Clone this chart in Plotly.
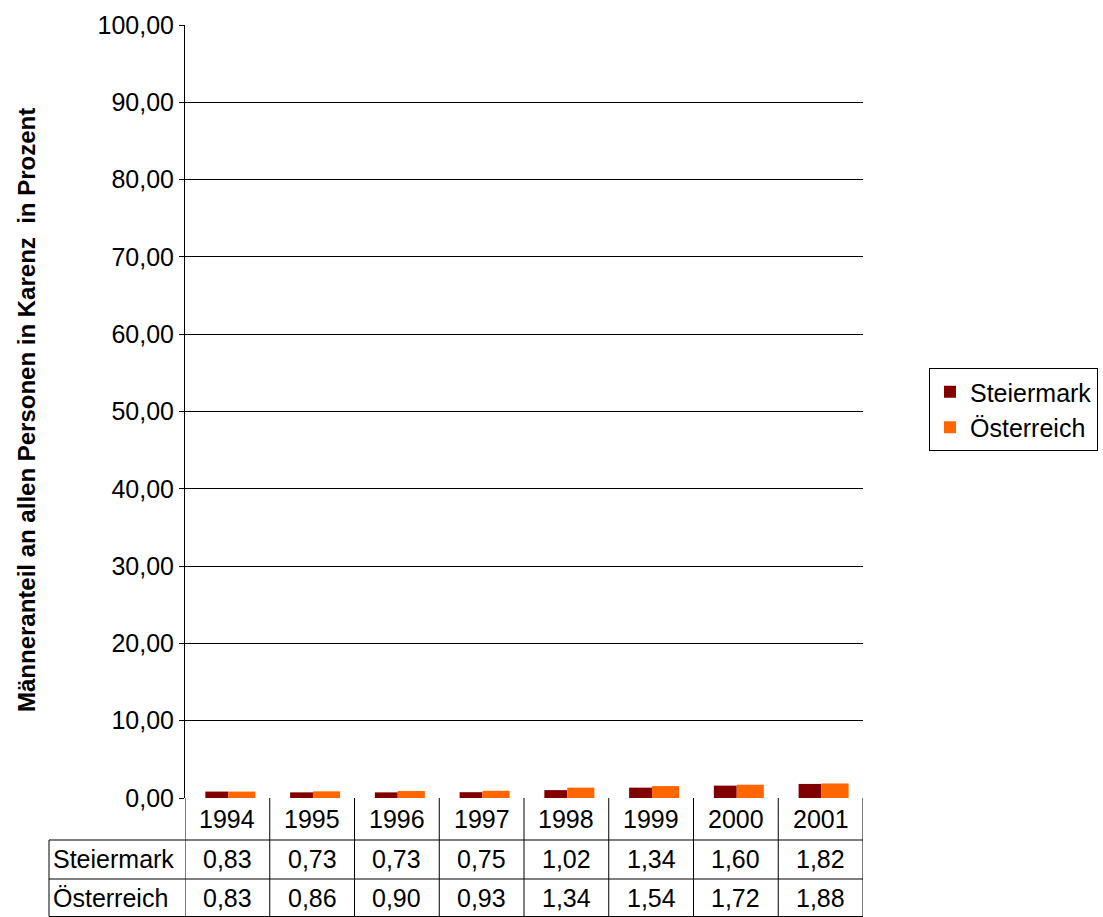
import plotly.graph_objects as go

years = ["1994", "1995", "1996", "1997", "1998", "1999", "2000", "2001"]
steiermark = [0.83, 0.73, 0.73, 0.75, 1.02, 1.34, 1.60, 1.82]
oesterreich = [0.83, 0.86, 0.90, 0.93, 1.34, 1.54, 1.72, 1.88]
series_names = ["Steiermark", "Österreich"]
series_colors = ["#800000", "#FF6600"]
y_title = "Männeranteil an allen Personen in Karenz  in Prozent"

FONT = "Liberation Sans, Arial, sans-serif"
FS = 25
W, H = 1103, 917
L, R, T, B = 185, 240, 25, 119
plot_h = H - T - B
plot_w = W - L - R

def py(px):
    # pixel row -> paper y
    return (H - B - px) / plot_h

def pxp(px):
    # pixel column -> paper x
    return (px - L) / plot_w

xs = list(range(len(years)))

fig = go.Figure()
fig.add_trace(go.Bar(x=xs, y=steiermark, name=series_names[0],
                     marker=dict(color=series_colors[0], line=dict(width=0)),
                     width=0.27, offset=-0.26))
fig.add_trace(go.Bar(x=xs, y=oesterreich, name=series_names[1],
                     marker=dict(color=series_colors[1], line=dict(width=0)),
                     width=0.32, offset=0.01))

shapes = []
line = dict(color="black", width=1)
row1_bottom = py(840)
row2_bottom = py(879)
table_bottom = py(916.5)
left_edge = pxp(49)

# vertical separators of the data table
for i in range(len(years) + 1):
    shapes.append(dict(type="line", xref="x", yref="paper",
                       x0=i - 0.5, x1=i - 0.5, y0=0, y1=table_bottom, line=line))
shapes.append(dict(type="line", xref="paper", yref="paper",
                   x0=left_edge, x1=left_edge, y0=row1_bottom, y1=table_bottom, line=line))
for yy in (row1_bottom, row2_bottom, table_bottom):
    shapes.append(dict(type="line", xref="paper", yref="paper",
                       x0=left_edge, x1=1, y0=yy, y1=yy, line=line))

annotations = []
tfont = dict(family=FONT, size=FS, color="black")
row1_mid = py(819)
row2_mid = py(859)
row3_mid = py(898)
for i, yr in enumerate(years):
    annotations.append(dict(x=i, y=row1_mid, xref="x", yref="paper", text=yr,
                            showarrow=False, font=tfont, xanchor="center", yanchor="middle"))
    annotations.append(dict(x=i, y=row2_mid, xref="x", yref="paper",
                            text=f"{steiermark[i]:.2f}".replace(".", ","),
                            showarrow=False, font=tfont, xanchor="center", yanchor="middle"))
    annotations.append(dict(x=i, y=row3_mid, xref="x", yref="paper",
                            text=f"{oesterreich[i]:.2f}".replace(".", ","),
                            showarrow=False, font=tfont, xanchor="center", yanchor="middle"))
annotations.append(dict(x=pxp(51), y=row2_mid, xref="paper", yref="paper", text=series_names[0],
                        showarrow=False, font=tfont, xanchor="left", yanchor="middle"))
annotations.append(dict(x=pxp(51), y=row3_mid, xref="paper", yref="paper", text=series_names[1],
                        showarrow=False, font=tfont, xanchor="left", yanchor="middle"))

# rotated y-axis title
annotations.append(dict(x=pxp(26), y=py(410), xref="paper", yref="paper", text=y_title,
                        textangle=-90, showarrow=False, xanchor="center", yanchor="middle",
                        font=dict(family=FONT, size=24, color="black", weight="bold")))

fig.update_layout(
    width=W, height=H,
    margin=dict(l=L, r=R, t=T, b=B, pad=0, autoexpand=False),
    paper_bgcolor="white", plot_bgcolor="white",
    separators=",.",
    font=dict(family=FONT, size=FS, color="black"),
    barmode="group",
    showlegend=True,
    legend=dict(x=pxp(929), y=py(368), xanchor="left", yanchor="top",
                bordercolor="black", borderwidth=1,
                font=dict(family=FONT, size=FS, color="black"),
                itemwidth=30, tracegroupgap=0),
    xaxis=dict(range=[-0.5, len(years) - 0.5], showticklabels=False, showgrid=False,
               zeroline=False, showline=False, ticks=""),
    yaxis=dict(range=[0, 100], dtick=10, tickformat=".2f", showgrid=True,
               gridcolor="black", gridwidth=1, zeroline=False,
               showline=True, linecolor="black", linewidth=1,
               ticks="outside", ticklen=5, tickcolor="black",
               tickfont=dict(family=FONT, size=FS, color="black")),
    shapes=shapes,
    annotations=annotations,
)

fig.write_html("out.html")
